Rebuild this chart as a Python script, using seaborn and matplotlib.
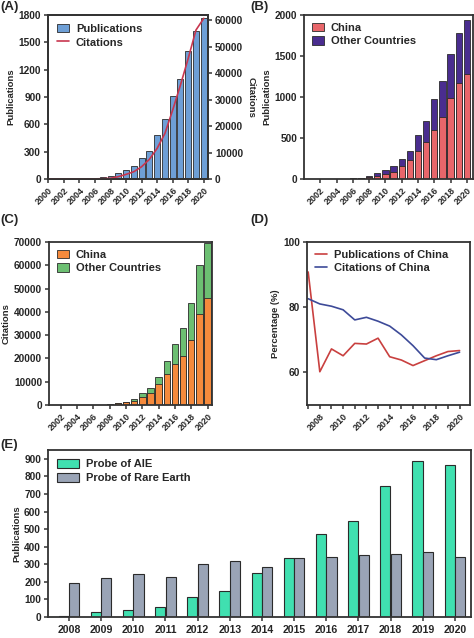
import numpy as np
import pandas as pd
import matplotlib
matplotlib.use("Agg")
import matplotlib.pyplot as plt
import seaborn as sns
from matplotlib.patches import Patch
from matplotlib.lines import Line2D

# ---------------- data ----------------
years_a = list(range(2000, 2021))
pubs_a = [0, 0, 1, 1, 2, 3, 14, 17, 33, 66, 95, 143, 227, 307, 483, 655, 908, 1102, 1405, 1625, 1764]
cit_a = [0, 0, 0, 0, 0, 20, 60, 120, 300, 880, 1760, 2770, 4660, 7440, 11600, 17260, 26100, 35550, 45640, 56350, 60760]

years_b = list(range(2001, 2021))
china_pub_b = [0, 0, 0, 1, 2, 12, 15, 22, 41, 65, 89, 154, 232, 341, 447, 598, 760, 992, 1167, 1280]
total_pub_b = [0, 0, 1, 1, 3, 15, 17, 37, 73, 106, 154, 244, 341, 537, 711, 972, 1199, 1524, 1785, 1939]

years_c = list(range(2001, 2021))
china_cit_c = [0, 0, 0, 0, 20, 80, 125, 250, 710, 1180, 1860, 3590, 5310, 8890, 13340, 17640, 21080, 27960, 39000, 45890]
total_cit_c = [0, 0, 0, 0, 30, 100, 150, 300, 860, 1430, 2720, 5020, 7170, 12190, 19070, 26100, 32980, 43740, 60230, 69550]

years_d = list(range(2007, 2021))
pct_pub_d = [90.8, 60.2, 67.2, 65.1, 68.9, 68.7, 70.5, 64.8, 63.8, 62.1, 63.6, 65.1, 66.4, 66.7]
pct_cit_d = [82.6, 81.0, 80.3, 79.2, 76.1, 76.9, 75.7, 74.2, 71.5, 68.2, 64.4, 63.9, 65.1, 66.2]

years_e = [str(y) for y in range(2008, 2021)]
aie_e = [6, 30, 40, 57, 112, 146, 250, 333, 472, 548, 743, 886, 867]
rare_e = [193, 222, 244, 229, 301, 316, 287, 336, 343, 350, 358, 369, 339]

# ---------------- style ----------------
sns.set_theme(style="ticks")
plt.rcParams['font.family'] = ['Liberation Sans', 'DejaVu Sans']
plt.rcParams['font.weight'] = 'bold'
plt.rcParams['axes.labelweight'] = 'bold'
plt.rcParams['axes.edgecolor'] = '#333333'
plt.rcParams['axes.linewidth'] = 1.3

EDGE = '#2b2b2b'
TICK = 7.3
LAB = 6.8
LEG = 8

fig = plt.figure(figsize=(4.74, 6.38), dpi=100)

def style_ax(ax, ylabel):
    ax.tick_params(axis='both', direction='out', length=3, width=1.1, labelsize=TICK, color='#333333', pad=2)
    for lbl in ax.get_xticklabels() + ax.get_yticklabels():
        lbl.set_fontweight('bold')
    ax.set_ylabel(ylabel, fontsize=LAB, fontweight='bold', labelpad=2)
    ax.set_xlabel('')
    for s in ax.spines.values():
        s.set_visible(True)
        s.set_color('#333333')

def year_ticks(ax, ticks):
    ax.set_xticks(ticks)
    ax.set_xticklabels([str(t) for t in ticks], rotation=45, ha='right', rotation_mode='anchor',
                       fontsize=6.5, fontweight='bold')

# ---------------- (A) ----------------
axA = fig.add_axes([0.1013, 0.7194, 0.3376, 0.257])
dfA = pd.DataFrame({'Year': years_a, 'Publications': pubs_a, 'Citations': cit_a})
sns.barplot(data=dfA, x='Year', y='Publications', native_scale=True, color='#6e9fd6',
            saturation=1, edgecolor=EDGE, linewidth=0.6, width=0.78, ax=axA)
axA.set_xlim(1999.95, 2020.55)
axA.set_ylim(0, 1800)
axA.set_yticks(range(0, 1801, 300))
style_ax(axA, 'Publications')
year_ticks(axA, list(range(2000, 2021, 2)))
axA2 = axA.twinx()
sns.lineplot(data=dfA, x='Year', y='Citations', color='#c8364f', linewidth=1.2, ax=axA2)
axA2.set_ylim(0, 62000)
axA2.set_yticks(range(0, 60001, 10000))
axA2.tick_params(axis='y', direction='out', length=3, width=1.1, labelsize=TICK, color='#333333', pad=2)
for lbl in axA2.get_yticklabels():
    lbl.set_fontweight('bold')
axA2.set_ylabel('Citations', fontsize=LAB, fontweight='bold', rotation=270, labelpad=9)
for s in axA2.spines.values():
    s.set_color('#333333')
axA.legend(handles=[Patch(facecolor='#6e9fd6', edgecolor=EDGE, linewidth=0.6, label='Publications'),
                    Line2D([0], [0], color='#c8364f', lw=1.2, label='Citations')],
           loc='upper left', frameon=False, fontsize=LEG, handlelength=1.1, handleheight=0.8,
           handletextpad=0.6, borderaxespad=0.4, labelspacing=0.3)

# ---------------- (B) ----------------
axB = fig.add_axes([0.6414, 0.7194, 0.3565, 0.257])
dfB = pd.DataFrame({'Year': years_b, 'China': china_pub_b, 'Total': total_pub_b})
sns.barplot(data=dfB, x='Year', y='Total', native_scale=True, color='#4a2d8f',
            saturation=1, edgecolor=EDGE, linewidth=0.6, width=0.78, ax=axB)
sns.barplot(data=dfB, x='Year', y='China', native_scale=True, color='#e8666a',
            saturation=1, edgecolor=EDGE, linewidth=0.6, width=0.78, ax=axB)
axB.set_xlim(2000.0, 2020.75)
axB.set_ylim(0, 2000)
axB.set_yticks(range(0, 2001, 500))
style_ax(axB, 'Publications')
year_ticks(axB, list(range(2002, 2021, 2)))
axB.legend(handles=[Patch(facecolor='#e8666a', edgecolor=EDGE, linewidth=0.6, label='China'),
                    Patch(facecolor='#4a2d8f', edgecolor=EDGE, linewidth=0.6, label='Other Countries')],
           loc='upper left', frameon=False, fontsize=LEG, handlelength=1.1, handleheight=0.8,
           handletextpad=0.6, borderaxespad=0.3, labelspacing=0.3)

# ---------------- (C) ----------------
axC = fig.add_axes([0.1034, 0.3652, 0.344, 0.2555])
dfC = pd.DataFrame({'Year': years_c, 'China': china_cit_c, 'Total': total_cit_c})
sns.barplot(data=dfC, x='Year', y='Total', native_scale=True, color='#6cbf72',
            saturation=1, edgecolor=EDGE, linewidth=0.6, width=0.78, ax=axC)
sns.barplot(data=dfC, x='Year', y='China', native_scale=True, color='#f58a3c',
            saturation=1, edgecolor=EDGE, linewidth=0.6, width=0.78, ax=axC)
axC.set_xlim(2000.55, 2020.55)
axC.set_ylim(0, 70000)
axC.set_yticks(range(0, 70001, 10000))
style_ax(axC, 'Citations')
year_ticks(axC, list(range(2002, 2021, 2)))
axC.legend(handles=[Patch(facecolor='#f58a3c', edgecolor=EDGE, linewidth=0.6, label='China'),
                    Patch(facecolor='#6cbf72', edgecolor=EDGE, linewidth=0.6, label='Other Countries')],
           loc='upper left', frameon=False, fontsize=LEG, handlelength=1.1, handleheight=0.8,
           handletextpad=0.6, borderaxespad=0.3, labelspacing=0.3)

# ---------------- (D) ----------------
axD = fig.add_axes([0.6477, 0.3652, 0.344, 0.2555])
dfD = pd.DataFrame({'Year': years_d, 'Pub': pct_pub_d, 'Cit': pct_cit_d})
sns.lineplot(data=dfD, x='Year', y='Pub', color='#c9403f', linewidth=1.2, ax=axD)
sns.lineplot(data=dfD, x='Year', y='Cit', color='#3d4a98', linewidth=1.2, ax=axD)
axD.set_xlim(2006.9, 2020.9)
axD.set_ylim(50, 100)
axD.set_yticks([60, 80, 100])
style_ax(axD, 'Percentage (%)')
year_ticks(axD, list(range(2008, 2021, 2)))
axD.set_xticks(list(range(2007, 2021)), minor=True)
axD.tick_params(axis='x', which='minor', direction='out', length=3, width=1.1, color='#333333')
axD.legend(handles=[Line2D([0], [0], color='#c9403f', lw=1.2, label='Publications of China'),
                    Line2D([0], [0], color='#3d4a98', lw=1.2, label='Citations of China')],
           loc='upper left', frameon=False, fontsize=LEG, handlelength=1.1,
           handletextpad=0.6, borderaxespad=0.3, labelspacing=0.3)

# ---------------- (E) ----------------
axE = fig.add_axes([0.1013, 0.0329, 0.8924, 0.2618])
dfE = pd.DataFrame({'Year': years_e * 2,
                    'Publications': aie_e + rare_e,
                    'Probe': ['Probe of AIE'] * len(years_e) + ['Probe of Rare Earth'] * len(years_e)})
sns.barplot(data=dfE, x='Year', y='Publications', hue='Probe',
            palette={'Probe of AIE': '#40e0b0', 'Probe of Rare Earth': '#9aa4b6'},
            saturation=1, edgecolor=EDGE, linewidth=0.8, width=0.66, gap=0.04, ax=axE)
axE.set_xlim(-0.65, 12.5)
axE.set_ylim(0, 950)
axE.set_yticks(range(0, 901, 100))
style_ax(axE, 'Publications')
axE.tick_params(axis='x', labelsize=7.6, pad=3)
for lbl in axE.get_xticklabels():
    lbl.set_fontweight('bold')
axE.legend(handles=[Patch(facecolor='#40e0b0', edgecolor=EDGE, linewidth=0.8, label='Probe of AIE'),
                    Patch(facecolor='#9aa4b6', edgecolor=EDGE, linewidth=0.8, label='Probe of Rare Earth')],
           loc='upper left', frameon=False, fontsize=LEG, handlelength=2.0, handleheight=0.9,
           handletextpad=0.6, borderaxespad=0.4, labelspacing=0.3)

# ---------------- panel letters ----------------
for txt, x, y in [('(A)', 0.0, 0.998), ('(B)', 0.528, 0.998), ('(C)', 0.0, 0.665),
                  ('(D)', 0.528, 0.665), ('(E)', 0.0, 0.312)]:
    fig.text(x, y, txt, fontsize=9.5, fontweight='bold', va='top', ha='left')

fig.savefig('out.png', dpi=100)
